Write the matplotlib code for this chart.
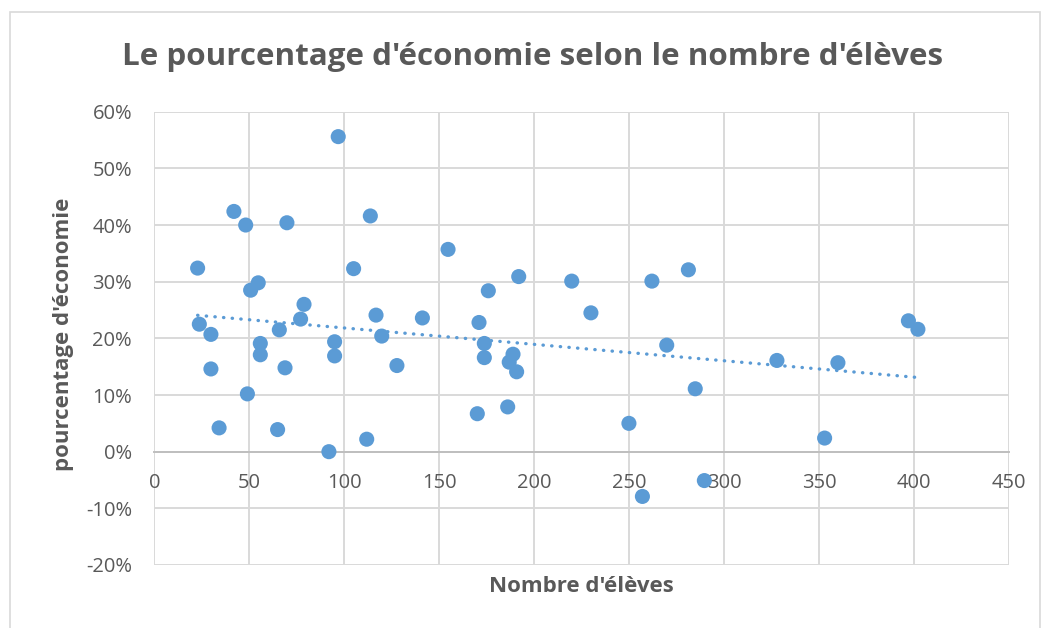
import matplotlib
matplotlib.use("Agg")
import matplotlib.pyplot as plt
from matplotlib.patches import Rectangle
from matplotlib.ticker import FuncFormatter, MultipleLocator
import numpy as np

# Data (number of pupils, saving percentage)
eleves = [22.8, 23.7, 29.8, 29.8, 34.1, 41.9, 48.1, 49.0, 50.7, 54.7,
          55.8, 55.8, 64.9, 65.8, 68.8, 69.8, 77.0, 78.8, 91.9, 94.9,
          94.9, 96.8, 104.9, 111.8, 113.7, 116.7, 119.7, 127.7, 141.1, 154.6,
          170.0, 170.9, 173.7, 173.7, 175.8, 186.0, 186.8, 188.8, 190.7, 191.8,
          219.7, 229.8, 249.8, 256.9, 261.9, 269.7, 281.1, 284.7, 289.5, 327.7,
          352.8, 359.8, 396.9, 401.9]
economie = [32.4, 22.5, 20.7, 14.6, 4.2, 42.4, 40.0, 10.2, 28.5, 29.8,
            19.1, 17.1, 3.9, 21.5, 14.8, 40.4, 23.4, 26.0, 0.0, 19.4,
            16.9, 55.6, 32.3, 2.2, 41.6, 24.1, 20.4, 15.2, 23.6, 35.7,
            6.7, 22.8, 19.1, 16.6, 28.4, 7.9, 15.8, 17.2, 14.1, 30.9,
            30.1, 24.5, 5.0, -7.9, 30.1, 18.8, 32.1, 11.1, -5.1, 16.1,
            2.4, 15.7, 23.1, 21.6]

title = "Le pourcentage d'économie selon le nombre d'élèves"
xlabel = "Nombre d'élèves"
ylabel = "pourcentage d'économie"

blue = "#5B9BD5"
grid_c = "#D9D9D9"
text_c = "#595959"

plt.rcParams['font.family'] = ['Open Sans', 'DejaVu Sans']

W, H = 1045, 628
fig = plt.figure(figsize=(W / 100, H / 100), dpi=100)
ax = fig.add_axes([154.3 / W, 1 - 565 / H, (1009.3 - 154.3) / W, (565 - 111.7) / H])

x = np.array(eleves)
y = np.array(economie)

ax.set_xlim(0, 450)
ax.set_ylim(-20, 60)
ax.xaxis.set_major_locator(MultipleLocator(50))
ax.yaxis.set_major_locator(MultipleLocator(10))
ax.yaxis.set_major_formatter(FuncFormatter(lambda v, p: f"{v:.0f}%"))

ax.grid(True, color=grid_c, linewidth=1.4, zorder=0)
ax.set_axisbelow(True)
for s in ['top', 'right', 'left']:
    ax.spines[s].set_visible(False)
ax.spines['bottom'].set_position(('data', 0))
ax.spines['bottom'].set_color("#BFBFBF")
ax.spines['bottom'].set_linewidth(1.4)
ax.tick_params(axis='both', length=0, labelsize=14.5, labelcolor=text_c)
ax.tick_params(axis='y', pad=16)
ax.tick_params(axis='x', pad=15)

ax.scatter(x, y, s=118, color=blue, edgecolors='none', zorder=3, clip_on=False)

# Linear trendline
coef = np.polyfit(x, y, 1)
xt = np.array([x.min(), x.max()])
ax.plot(xt, np.polyval(coef, xt), color=blue, lw=2.4,
        linestyle=(0, (0.1, 2.5)), dash_capstyle='round', zorder=2)

fig.text(533 / W, 1 - 57 / H, title, ha='center', va='center',
         fontsize=22.6, fontweight='bold', color=text_c)
fig.text(581 / W, 1 - 587 / H, xlabel, ha='center', va='center',
         fontsize=16, fontweight='bold', color=text_c)
fig.text(64 / W, 1 - 334 / H, ylabel, ha='center', va='center', rotation=90,
         fontsize=16, fontweight='bold', color=text_c)

fig.patches.append(Rectangle((10 / W, -0.02), (1040 - 10) / W, 1 - 12 / H + 0.02,
                             transform=fig.transFigure, fill=False,
                             edgecolor=grid_c, linewidth=1.2))

fig.savefig("out.png", dpi=100)
